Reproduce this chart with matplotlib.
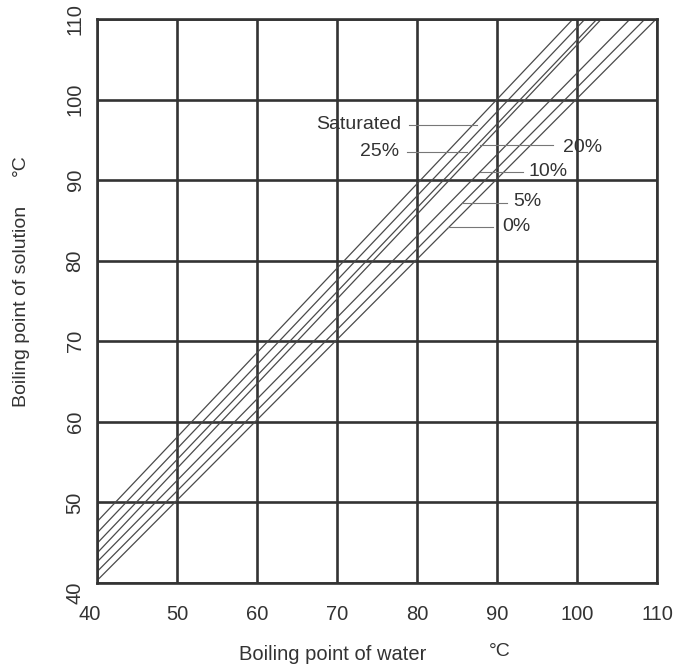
import matplotlib
matplotlib.use('Agg')
from matplotlib import pyplot as plt
from matplotlib.transforms import ScaledTranslation

plt.rcParams['font.family'] = ['Liberation Sans', 'DejaVu Sans']

# Duhring lines: solution boiling point at water bp 40 and 110 (deg C)
water_ends = [40, 110]
concentrations = ['Saturated', '25%', '20%', '15%', '10%', '5%', '0%']
solution_at_40 = [47.6, 46.2, 44.9, 43.7, 42.6, 41.4, 40.3]
solution_at_110 = [121.0, 119.4, 117.8, 117.3, 113.4, 111.5, 110.1]

ticks = list(range(40, 111, 10))

dark = '#333333'
line_col = '#4a4a4a'

fig = plt.figure(figsize=(6.75, 6.70), dpi=100)
ax = fig.add_axes([97 / 675, 87 / 670, 560 / 675, 564 / 670])

for lo, hi in zip(solution_at_40, solution_at_110):
    ax.plot(water_ends, [lo, hi], color=line_col, lw=0.9)

ax.set_xlim(40, 110)
ax.set_ylim(40, 110)
ax.set_xticks(ticks)
ax.set_yticks(ticks)
ax.set_axisbelow(True)
ax.grid(True, color=dark, lw=1.9)
for sp in ax.spines.values():
    sp.set_color(dark)
    sp.set_linewidth(1.9)
ax.tick_params(length=0, labelsize=14.5, labelcolor=dark)
ax.tick_params(axis='x', pad=16)
ax.tick_params(axis='y', pad=9)
plt.setp(ax.get_yticklabels(), rotation=90, va='center')

# the two "40" labels are nudged away from the corner
xl0 = ax.get_xticklabels()[0]
xl0.set_transform(xl0.get_transform() + ScaledTranslation(-5 / 72, 0, fig.dpi_scale_trans))
yl0 = ax.get_yticklabels()[0]
yl0.set_transform(yl0.get_transform() + ScaledTranslation(0, -7 / 72, fig.dpi_scale_trans))

# labels with leader lines
lead = dict(color='#777777', lw=0.8)
txt = dict(fontsize=14, color=dark, va='center')
ax.plot([79.0, 87.5], [96.9, 96.9], **lead)
ax.text(78.0, 96.9, 'Saturated', ha='right', **txt)
ax.plot([78.8, 86.3], [93.5, 93.5], **lead)
ax.text(77.8, 93.5, '25%', ha='right', **txt)
ax.plot([97.0, 87.9], [94.3, 94.3], **lead)
ax.text(98.2, 94.1, '20%', ha='left', **txt)
ax.plot([93.2, 87.9], [91.0, 91.0], **lead)
ax.text(93.9, 91.1, '10%', ha='left', **txt)
ax.plot([91.2, 85.6], [87.2, 87.2], **lead)
ax.text(92.0, 87.3, '5%', ha='left', **txt)
ax.plot([89.5, 83.9], [84.2, 84.2], **lead)
ax.text(90.6, 84.2, '0%', ha='left', **txt)

fig.text(333 / 675, 1 - 655 / 670, 'Boiling point of water', fontsize=14.5,
         color=dark, ha='center', va='center')
fig.text(500 / 675, 1 - 651 / 670, '°C', fontsize=14, color=dark,
         ha='center', va='center')
fig.text(22 / 675, 1 - 306 / 670, 'Boiling point of solution', fontsize=14,
         color=dark, ha='center', va='center', rotation=90)
fig.text(20 / 675, 1 - 165 / 670, '°C', fontsize=14, color=dark,
         ha='center', va='center', rotation=90)

fig.savefig('out.png', dpi=100, facecolor='white')
